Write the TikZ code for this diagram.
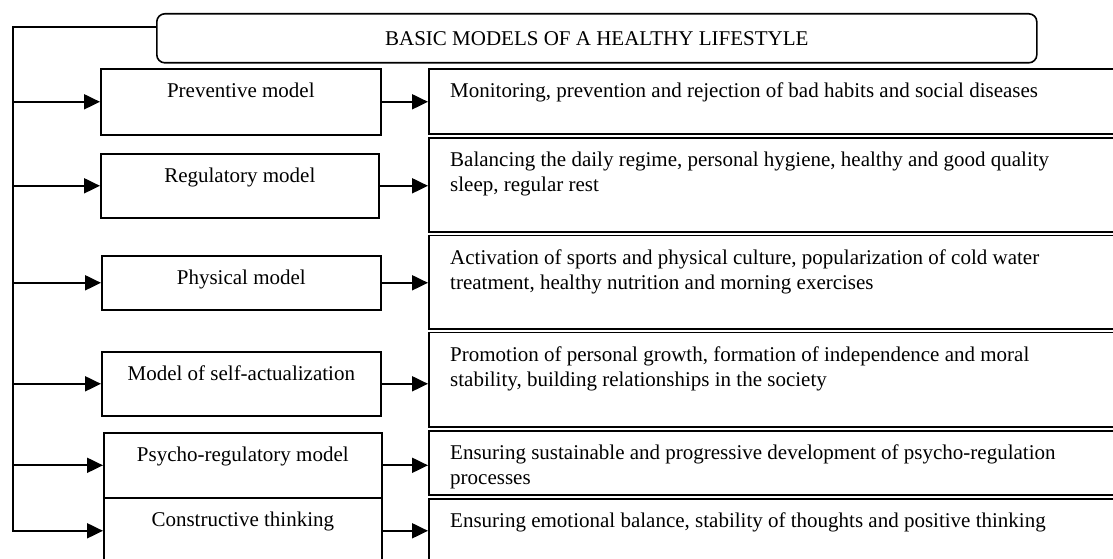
\documentclass[tikz,border=0pt]{standalone}
\usepackage{fontspec}
\setmainfont{Liberation Serif}
\usetikzlibrary{arrows.meta}
\begin{document}
\begin{tikzpicture}[x=1pt,y=-1pt,
  boxframe/.style={draw,line width=1.6pt,rectangle,anchor=north west,inner sep=0pt},
  titlebox/.style={boxframe,rounded corners=8pt,font=\fontsize{21}{25}\selectfont},
  lbl/.style={font=\fontsize{21}{25}\selectfont,anchor=base,inner sep=0pt},
  desc/.style={font=\fontsize{21}{25}\selectfont,align=left,anchor=north west,inner sep=0pt},
  arr/.style={line width=2pt,-{Triangle[length=16pt,width=15pt]}}]
\useasboundingbox (0,0) rectangle (1113,559);
\fill[white] (0,0) rectangle (1113,559);
\clip (0,0) rectangle (1113,559);
% title
\node[titlebox,minimum width=880pt,minimum height=49pt] (title) at (156,13) {BASIC MODELS OF A HEALTHY LIFESTYLE};
% left boxes
\node[boxframe,minimum width=280pt,minimum height=66pt] (m1) at (100,68) {};
\node[boxframe,minimum width=278pt,minimum height=64pt] (m2) at (100,153) {};
\node[boxframe,minimum width=279pt,minimum height=54pt] (m3) at (101,255) {};
\node[boxframe,minimum width=279pt,minimum height=64pt] (m4) at (101,351) {};
\node[boxframe,minimum width=278pt,minimum height=65pt] (m5) at (103,432) {};
\node[boxframe,minimum width=278pt,minimum height=66pt] (m6) at (103,497) {};
\node[lbl] (t1) at ([yshift=-29.5pt]m1.north) {Preventive model};
\node[lbl] (t2) at ([yshift=-29.5pt]m2.north) {Regulatory model};
\node[lbl] (t3) at ([yshift=-29.5pt]m3.north) {Physical model};
\node[lbl] (t4) at ([yshift=-29.5pt]m4.north) {Model of self-actualization};
\node[lbl] (t5) at ([yshift=-29.5pt]m5.north) {Psycho-regulatory model};
\node[lbl] (t6) at ([yshift=-29.5pt]m6.north) {Constructive thinking};
% right boxes
\node[boxframe,minimum width=700pt,minimum height=65pt] (r1) at (428,68) {};
\node[boxframe,minimum width=700pt,minimum height=94pt] (r2) at (428,137) {};
\node[boxframe,minimum width=700pt,minimum height=93.5pt] (r3) at (428,234.5) {};
\node[boxframe,minimum width=700pt,minimum height=94.5pt] (r4) at (428,331.5) {};
\node[boxframe,minimum width=700pt,minimum height=64pt] (r5) at (428,430) {};
\node[boxframe,minimum width=700pt,minimum height=100pt] (r6) at (428,498) {};
\node[desc] (d1) at ([xshift=22pt,yshift=-12pt]r1.north west) {\strut Monitoring, prevention and rejection of bad habits and social diseases};
\node[desc] (d2) at ([xshift=22pt,yshift=-12pt]r2.north west) {\strut Balancing the daily regime, personal hygiene, healthy and good quality\\sleep, regular rest};
\node[desc] (d3) at ([xshift=22pt,yshift=-12pt]r3.north west) {\strut Activation of sports and physical culture, popularization of cold water\\treatment, healthy nutrition and morning exercises};
\node[desc] (d4) at ([xshift=22pt,yshift=-12pt]r4.north west) {\strut Promotion of personal growth, formation of independence and moral\\stability, building relationships in the society};
\node[desc] (d5) at ([xshift=22pt,yshift=-12pt]r5.north west) {\strut Ensuring sustainable and progressive development of psycho-regulation\\processes};
\node[desc] (d6) at ([xshift=22pt,yshift=-12pt]r6.north west) {\strut Ensuring emotional balance, stability of thoughts and positive thinking};
% trunk
\coordinate (trunk) at (13,27);
\draw[arr] ([yshift=-14pt]title.north west) -- (trunk) |- (m6.west);
\foreach \i in {1,...,5}{
  \draw[arr] (trunk |- m\i.west) -- (m\i.west);
}
\foreach \i in {1,...,6}{
  \draw[arr] (m\i.east) -- (r\i.west |- m\i.east);
}
\end{tikzpicture}
\end{document}
